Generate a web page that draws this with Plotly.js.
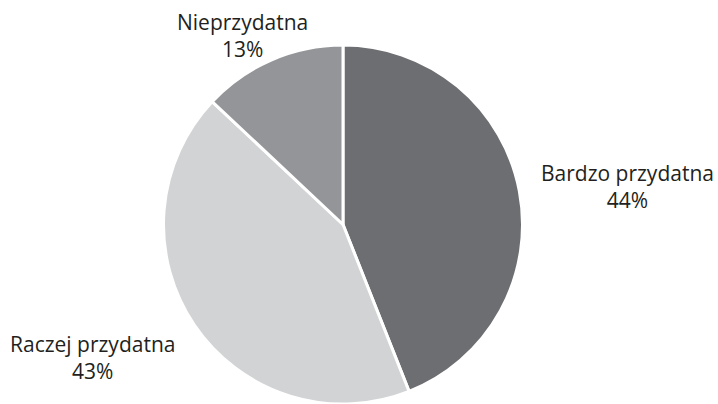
<!DOCTYPE html>
<html>
<head>
<meta charset="utf-8">
<script src="https://cdn.plot.ly/plotly-3.0.1.min.js"></script>
<style>html,body{margin:0;padding:0;background:#fff;}#chart{width:718px;height:404px;}</style>
</head>
<body>
<div id="chart"></div>
<script>
var categories = ["Bardzo przydatna", "Raczej przydatna", "Nieprzydatna"];
var values = [44, 43, 13];
var colors = ["#6d6e71", "#d1d3d4", "#939598"];

var W = 718, H = 404;
// label centre positions in pixels (layout only)
var labelPos = [[627, 186], [92, 357], [242, 36]];

var total = values.reduce(function (a, b) { return a + b; }, 0);

var trace = {
  type: "pie",
  labels: categories,
  values: values,
  sort: false,
  direction: "clockwise",
  rotation: 0,
  marker: {colors: colors, line: {color: "#ffffff", width: 3}},
  textinfo: "none",
  showlegend: false,
  hoverinfo: "label+percent",
  domain: {x: [163 / W, 523 / W], y: [0, 359 / H]}
};

var annotations = categories.map(function (c, i) {
  return {
    text: c + "<br>" + Math.round(values[i] / total * 100) + "%",
    xref: "paper", yref: "paper",
    x: labelPos[i][0] / W, y: 1 - labelPos[i][1] / H,
    xanchor: "center", yanchor: "middle",
    showarrow: false,
    align: "center",
    font: {family: "Open Sans, sans-serif", size: 21, color: "#231f20"}
  };
});

var layout = {
  width: W, height: H,
  margin: {l: 0, r: 0, t: 0, b: 0},
  paper_bgcolor: "#ffffff",
  showlegend: false,
  annotations: annotations
};

Plotly.newPlot("chart", [trace], layout, {displayModeBar: false, staticPlot: true});
</script>
</body>
</html>
